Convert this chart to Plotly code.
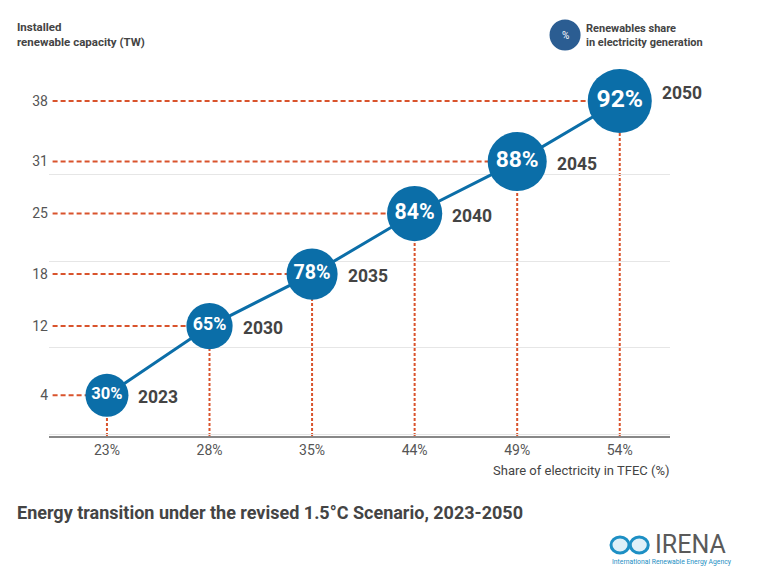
import numpy as np
import plotly.graph_objects as go

# =============================================================================
# data
# =============================================================================
years = ["2023", "2030", "2035", "2040", "2045", "2050"]
tfec_share = ["23%", "28%", "35%", "44%", "49%", "54%"]
capacity_tw = [4, 12, 18, 25, 31, 38]
renew_share = [30, 65, 78, 84, 88, 92]

blue = "#0b6ea8"
red = "#d9532c"
grey = "#444444"
FONT = "Roboto"

# bubble size grows with the renewables share
shares = np.array(renew_share, dtype=float)
sizes = 42.7 + 0.0464 * np.exp(shares / 15.0)

y_lo, y_hi = -0.7, 39.5

fig = go.Figure()

# connecting line
fig.add_trace(go.Scatter(x=tfec_share, y=capacity_tw, mode="lines",
                         line=dict(color=blue, width=3), hoverinfo="skip"))

# bubbles with share labels
fig.add_trace(go.Scatter(
    x=tfec_share, y=capacity_tw, mode="markers+text",
    marker=dict(size=sizes, color=blue, opacity=1, line=dict(width=0)),
    text=[f"<b>{s}%</b>" for s in renew_share],
    textposition="middle center",
    textfont=dict(family=FONT, color="white", size=list(sizes * 0.385)),
    cliponaxis=False, hoverinfo="skip"))

# dashed guide lines + year labels
for i, (cap, sz) in enumerate(zip(capacity_tw, sizes)):
    fig.add_shape(type="line", xref="x", yref="y", x0=-0.53, x1=i,
                  y0=cap, y1=cap, layer="below",
                  line=dict(color=red, width=2, dash="5px,3px"))
    fig.add_shape(type="line", xref="x", yref="y", x0=i, x1=i,
                  y0=y_lo, y1=cap, layer="below",
                  line=dict(color=red, width=2, dash="3px,2px"))
    fig.add_annotation(x=i, y=cap, text=f"<b>{years[i]}</b>", showarrow=False,
                       xanchor="left", yanchor="middle", xshift=sz / 2 + 8,
                       yshift=8 if i == len(years) - 1 else -2,
                       font=dict(family=FONT, size=17.5, color=grey))

# y axis title
fig.add_annotation(xref="paper", yref="paper", x=-0.055, y=1.2,
                   xanchor="left", yanchor="top", align="left",
                   text="<b>Installed<br>renewable capacity (TW)</b>",
                   showarrow=False,
                   font=dict(family=FONT, size=11.5, color=grey))

# x axis title
fig.add_annotation(xref="paper", yref="paper", x=1.003, y=-0.072,
                   xanchor="right", yanchor="top",
                   text="Share of electricity in TFEC (%)", showarrow=False,
                   font=dict(family=FONT, size=13, color=grey))

# legend bubble
fig.add_shape(type="circle", xref="paper", yref="paper",
              x0=0.806, x1=0.856, y0=1.108, y1=1.197,
              fillcolor="#2b5d92", line=dict(width=0))
fig.add_annotation(xref="paper", yref="paper", x=0.831, y=1.152,
                   xanchor="center", yanchor="middle",
                   text="%", showarrow=False,
                   font=dict(family=FONT, size=10, color="white"))
fig.add_annotation(xref="paper", yref="paper", x=0.861, y=1.152,
                   xanchor="left", yanchor="middle", align="left",
                   showarrow=False,
                   text="<b>Renewables share<br>in electricity generation</b>",
                   font=dict(family=FONT, size=11, color=grey))

# chart title
fig.add_annotation(xref="paper", yref="paper", x=-0.055, y=-0.184,
                   xanchor="left", yanchor="top", showarrow=False,
                   text="<b>Energy transition under the revised 1.5°C Scenario, 2023-2050</b>",
                   font=dict(family=FONT, size=18, color=grey))

# logo
for x0 in [0.905, 0.936]:
    fig.add_shape(type="circle", xref="paper", yref="paper",
                  x0=x0, x1=x0 + 0.029, y0=-0.336, y1=-0.29,
                  fillcolor="#dff0f8", line=dict(color="#1d8fc4", width=3))
fig.add_annotation(xref="paper", yref="paper", x=0.973, y=-0.313,
                   xanchor="left", yanchor="middle", showarrow=False,
                   text="IRENA",
                   font=dict(family=FONT, size=25, color="#5a5a5a"))
fig.add_annotation(xref="paper", yref="paper", x=0.903, y=-0.362,
                   xanchor="left", yanchor="middle", showarrow=False,
                   text="International Renewable Energy Agency",
                   font=dict(family=FONT, size=6.8, color="#1d8fc4"))

fig.update_layout(
    width=760, height=580,
    margin=dict(l=49, r=90, t=88, b=144),
    paper_bgcolor="white", plot_bgcolor="white",
    showlegend=False,
    font=dict(family=FONT, color=grey),
    xaxis=dict(type="category", range=[-0.565, 5.49], showgrid=False,
               showline=True, linecolor="#888888", linewidth=1.5,
               ticks="", tickfont=dict(size=14, color="#555555")),
    yaxis=dict(range=[y_lo, y_hi], tickvals=capacity_tw, showgrid=False,
               zeroline=False, showline=False, ticks="",
               tickfont=dict(size=14, color="#555555"),
               minor=dict(tick0=9.5, dtick=10, showgrid=True,
                          gridcolor="#e6e6e6", gridwidth=1, ticks="")),
)

fig.write_html("out.html", config={"displayModeBar": False},
               post_script="document.body.style.margin='0px';")
